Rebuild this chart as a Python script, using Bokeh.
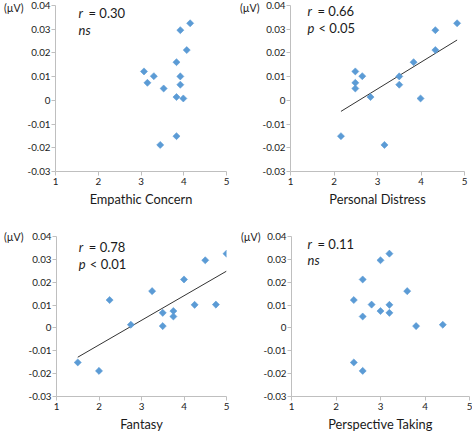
import numpy as np
from bokeh.plotting import figure
from bokeh.layouts import row, column
from bokeh.models import Label, FixedTicker, CustomJSTickFormatter, Range1d, LinearAxis
from bokeh.embed import file_html
from bokeh.resources import INLINE

# ---- data ----
response = [0.0325, 0.0296, 0.0212, 0.0161, 0.0122, 0.0102, 0.0101,
            0.0074, 0.0066, 0.0050, 0.0014, 0.0008, -0.0151, -0.0188]
empathic_concern = [4.15, 3.92, 4.07, 3.83, 3.07, 3.30, 3.92,
                    3.15, 3.92, 3.53, 3.83, 3.99, 3.83, 3.45]
personal_distress = [4.83, 4.33, 4.33, 3.83, 2.49, 2.65, 3.50,
                     2.49, 3.50, 2.49, 2.84, 3.99, 2.16, 3.16]
fantasy = [5.0, 4.5, 4.0, 3.25, 2.25, 4.75, 4.25,
           3.75, 3.5, 3.75, 2.75, 3.5, 1.5, 2.0]
perspective_taking = [3.2, 3.0, 2.6, 3.6, 2.4, 2.8, 3.2,
                      3.0, 3.2, 2.6, 4.4, 3.8, 2.4, 2.6]

panel_titles = ["Empathic Concern", "Personal Distress", "Fantasy", "Perspective Taking"]
r_values = ["0.30", "0.66", "0.78", "0.11"]
sig_italic = ["ns", "p", "p", "ns"]
sig_rest = ["", "< 0.05", "< 0.01", ""]
show_fit = [False, True, True, False]
x_ticks = [1, 2, 3, 4, 5]
y_ticks = [-0.03, -0.02, -0.01, 0, 0.01, 0.02, 0.03, 0.04]
unit_label = "(µV)"

xs = [empathic_concern, personal_distress, fantasy, perspective_taking]

# ---- layout / style ----
FONT = "Lato"
TXT = "#1a1a1a"
AX = "#bfbfbf"
BLUE = "#5b9bd5"
W, H = 236, 217

layout_params = [
    dict(l=51, r=10, t=4, b=46, adx=23, rdy=7.4, sdy=24, ust=1, ubase="middle"),
    dict(l=54, r=8, t=5, b=46, adx=17, rdy=5.3, sdy=22, ust=0, ubase="middle"),
    dict(l=51, r=10, t=15, b=35, adx=22.3, rdy=10.6, sdy=27, ust=2, ubase="top"),
    dict(l=55, r=3, t=19, b=37, adx=16, rdy=7.3, sdy=23, ust=0, ubase="middle"),
]


def style_axis(ax, standoff):
    ax.axis_line_color = AX
    ax.major_tick_line_color = AX
    ax.minor_tick_line_color = None
    ax.major_tick_out = 4
    ax.major_tick_in = 0
    ax.major_label_text_font = FONT
    ax.major_label_text_font_size = "9.8px"
    ax.major_label_text_color = TXT
    ax.major_label_standoff = standoff


def make_panel(i):
    lp = layout_params[i]
    p = figure(width=W, height=H, output_backend="svg", toolbar_location=None,
               x_range=Range1d(x_ticks[0], x_ticks[-1]),
               y_range=Range1d(y_ticks[0], y_ticks[-1]),
               min_border_left=lp["l"], min_border_right=lp["r"],
               min_border_top=lp["t"], min_border_bottom=lp["b"])
    p.outline_line_color = None
    p.grid.visible = False
    p.background_fill_color = "white"
    p.border_fill_color = "white"

    style_axis(p.xaxis[0], 2)
    style_axis(p.yaxis[0], 1)
    p.xaxis.ticker = FixedTicker(ticks=x_ticks)
    p.yaxis.ticker = FixedTicker(ticks=y_ticks)
    p.yaxis.formatter = CustomJSTickFormatter(
        code="return Math.abs(tick) < 1e-9 ? '0' : tick.toFixed(2);")
    p.xaxis.axis_label = panel_titles[i]
    p.xaxis.axis_label_text_font = FONT
    p.xaxis.axis_label_text_font_size = "12.8px"
    p.xaxis.axis_label_text_font_style = "normal"
    p.xaxis.axis_label_text_color = TXT
    p.xaxis.axis_label_standoff = 3

    # unit label "(µV)" as an outer axis with a single tick at the top value
    unit_axis = LinearAxis(
        ticker=FixedTicker(ticks=[y_ticks[-1]]),
        formatter=CustomJSTickFormatter(code="return %r;" % unit_label),
        axis_line_color=None, major_tick_line_color=None,
        minor_tick_line_color=None, major_tick_out=0, major_tick_in=0,
        major_label_standoff=lp["ust"], major_label_text_font=FONT,
        major_label_text_font_size="10.5px", major_label_text_color=TXT,
        major_label_text_baseline=lp["ubase"])
    p.add_layout(unit_axis, "left")

    x = np.array(xs[i], dtype=float)
    y = np.array(response, dtype=float)

    if show_fit[i]:
        slope, intercept = np.polyfit(x, y, 1)
        fx = np.array([x.min(), x.max()])
        p.line(fx, slope * fx + intercept, line_color="#333333", line_width=1)

    p.scatter(x, y, marker="square", size=5.0, angle=np.pi / 4,
              fill_color=BLUE, line_color=BLUE, line_width=0.6)

    top = y_ticks[-1]
    left = x_ticks[0]
    common = dict(x=left, y=top, text_font=FONT, text_font_size="13px",
                  text_color=TXT, text_baseline="alphabetic", text_align="left")
    p.add_layout(Label(text="r", text_font_style="italic",
                       x_offset=lp["adx"], y_offset=-lp["rdy"], **common))
    p.add_layout(Label(text="= " + r_values[i],
                       x_offset=lp["adx"] + 10, y_offset=-lp["rdy"], **common))
    p.add_layout(Label(text=sig_italic[i], text_font_style="italic",
                       x_offset=lp["adx"], y_offset=-lp["sdy"], **common))
    if sig_rest[i]:
        p.add_layout(Label(text=sig_rest[i],
                           x_offset=lp["adx"] + 11, y_offset=-lp["sdy"], **common))
    return p


panels = [make_panel(i) for i in range(4)]
layout = column(row(panels[0], panels[1]), row(panels[2], panels[3]))

open("out.html", "w").write(file_html(layout, INLINE))
